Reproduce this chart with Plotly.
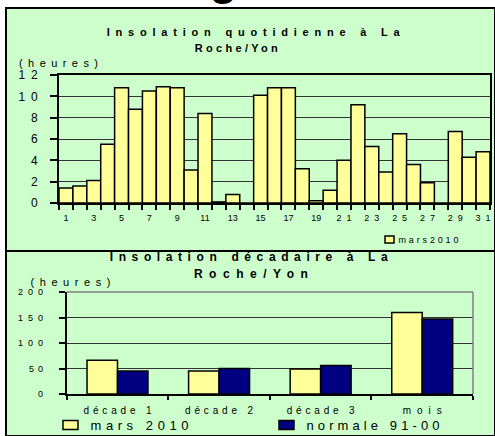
import json
import plotly.graph_objects as go

# ---------------- data ----------------
days = list(range(1, 32))
insolation_mars2010 = [1.4, 1.6, 2.1, 5.5, 10.8, 8.8, 10.5, 10.9, 10.8, 3.1,
                       8.4, 0.1, 0.8, 0.0, 10.1, 10.8, 10.8, 3.2, 0.2, 1.2,
                       4.0, 9.2, 5.3, 2.9, 6.5, 3.6, 1.9, 0.0, 6.7, 4.3, 4.8]
day_ticks = list(range(1, 32, 2))

decades = ["décade 1", "décade 2", "décade 3", "mois"]
decade_mars2010 = [66, 45, 49, 160]
decade_normale = [45, 50, 56, 147]

W, H = 495, 436
GREEN = "#CCFFCC"
YELLOW = "#FFFF99"
NAVY = "#000080"
FONT = "Liberation Sans, Arial, sans-serif"


def px(x):
    return x / W


def py(y):
    return 1 - y / H


fig = go.Figure()

fig.add_trace(go.Bar(
    x=days, y=insolation_mars2010, name="mars2010", width=1, showlegend=True,
    marker=dict(color=YELLOW, line=dict(color="black", width=1.5)),
    xaxis="x", yaxis="y", legend="legend",
))
fig.add_trace(go.Bar(
    x=decades, y=decade_mars2010, name="mars 2010", showlegend=True,
    marker=dict(color=YELLOW, line=dict(color="black", width=1.5)),
    xaxis="x2", yaxis="y2", legend="legend2",
))
fig.add_trace(go.Bar(
    x=decades, y=decade_normale, name="normale 91-00", showlegend=True,
    marker=dict(color=NAVY, line=dict(color="black", width=1.5)),
    xaxis="x2", yaxis="y2", legend="legend2",
))

shapes = [
    dict(type="rect", xref="paper", yref="paper", x0=px(6), x1=1,
         y0=py(251), y1=py(8), fillcolor=GREEN, line=dict(color="black", width=2),
         layer="below"),
    dict(type="rect", xref="paper", yref="paper", x0=px(6), x1=1,
         y0=0, y1=py(251), fillcolor=GREEN, line=dict(color="black", width=2),
         layer="below"),
    # grey frame (top / right) of the lower plot
    dict(type="line", xref="x2 domain", yref="y2 domain", x0=0, x1=1, y0=1, y1=1,
         line=dict(color="#808080", width=1.5)),
    dict(type="line", xref="x2 domain", yref="y2 domain", x0=1, x1=1, y0=0, y1=1,
         line=dict(color="#808080", width=1.5)),
]

annotations = [
    dict(text="irrégulière", x=px(247), y=py(6.5), xanchor="center", yanchor="bottom",
         font=dict(size=46, family=FONT, color="black", weight="bold")),
    dict(text="Insolation quotidienne à La", x=px(253.5), y=py(31.5), xanchor="center",
         yanchor="middle", font=dict(size=11, family=FONT, color="black", weight="bold")),
    dict(text="Roche/Yon", x=px(236.5), y=py(48), xanchor="center",
         yanchor="middle", font=dict(size=11, family=FONT, color="black", weight="bold")),
    dict(text="(heures)", x=px(36), y=py(63), xanchor="left", yanchor="middle",
         font=dict(size=11, family=FONT, color="black")),
    dict(text="Insolation décadaire à La", x=px(249), y=py(257), xanchor="center",
         yanchor="middle", font=dict(size=12, family=FONT, color="black", weight="bold")),
    dict(text="Roche/Yon", x=px(250.5), y=py(273.5), xanchor="center",
         yanchor="middle", font=dict(size=12, family=FONT, color="black", weight="bold")),
    dict(text="(heures)", x=px(48), y=py(282), xanchor="left", yanchor="middle",
         font=dict(size=11, family=FONT, color="black")),
]
for a in annotations:
    a.update(xref="paper", yref="paper", showarrow=False)

fig.update_layout(
    width=W, height=H, margin=dict(l=0, r=0, t=0, b=0, autoexpand=False),
    paper_bgcolor="white", plot_bgcolor="rgba(0,0,0,0)",
    font=dict(family=FONT, color="black"),
    showlegend=True,
    barmode="group", bargap=0.4, bargroupgap=0,
    shapes=shapes, annotations=annotations,
    xaxis=dict(domain=[px(59), px(490)], anchor="y", range=[0.5, 31.5],
               tickmode="array", tickvals=day_ticks, ticks="",
               tickfont=dict(size=9), ticklabelstandoff=5, automargin=False,
               showgrid=False, zeroline=False,
               showline=True, linecolor="black", linewidth=2, mirror=True,
               minor=dict(tick0=0.5, dtick=1, ticks="outside", ticklen=5,
                          tickwidth=1.5, tickcolor="black", showgrid=False)),
    yaxis=dict(domain=[py(203), py(75)], anchor="x", range=[0, 12], dtick=2,
               ticks="outside", ticklen=7, tickwidth=1.5, tickcolor="black",
               tickfont=dict(size=12), ticklabelstandoff=10, automargin=False,
               showgrid=True, gridcolor="#333333", gridwidth=1, zeroline=False,
               showline=True, linecolor="black", linewidth=2, mirror=True),
    xaxis2=dict(domain=[px(66.7), px(473)], anchor="y2", type="category",
                ticks="outside", tickson="boundaries", ticklen=4, tickwidth=1.5,
                tickcolor="black", tickfont=dict(size=10), ticklabelstandoff=6,
                automargin=False, showgrid=False, zeroline=False,
                showline=True, linecolor="black", linewidth=2),
    yaxis2=dict(domain=[py(394), py(292)], anchor="x2", range=[0, 200], dtick=50,
                ticks="outside", ticklen=6, tickwidth=1.5, tickcolor="black",
                tickfont=dict(size=9), ticklabelstandoff=14, automargin=False,
                showgrid=True, gridcolor="#333333", gridwidth=1, zeroline=False,
                showline=True, linecolor="black", linewidth=2),
    legend=dict(x=px(369.5), y=py(239.5), xanchor="left", yanchor="middle",
                orientation="h", bgcolor="rgba(0,0,0,0)", borderwidth=0,
                font=dict(size=9), entrywidth=60, entrywidthmode="pixels",
                itemclick=False, itemdoubleclick=False, visible=True),
    legend2=dict(x=px(50.5), y=py(425), xanchor="left", yanchor="middle",
                 orientation="h", bgcolor="rgba(0,0,0,0)", borderwidth=0,
                 font=dict(size=13), entrywidth=171, entrywidthmode="pixels",
                 itemclick=False, itemdoubleclick=False, visible=True),
)

# Excel-like stretched text: target widths (px) of the texts, in document order
text_widths = {
    "Insolation quotidienne à La": [293],
    "Roche/Yon": [83, 114],
    "Insolation décadaire à La": [278],
    "(heures)": [79, 80],
    "12": [19], "10": [19],
    "21": [15], "23": [15], "25": [15], "27": [15], "29": [15], "31": [15],
    "200": [25], "150": [25], "100": [25], "50": [14],
    "décade 1": [68], "décade 2": [68], "décade 3": [68], "mois": [39],
    "mars2010": [60], "mars 2010": [98], "normale 91-00": [133],
}
# legend swatch half-size and text offset per legend
legend_style = {"legend": [4.5, 3.5, 29], "legend2": [7.5, 4.5, 25]}

post = """
var st = document.createElement('style');
st.textContent = 'html,body{margin:0;padding:0;overflow:hidden;height:436px;width:495px;}';
document.head.appendChild(st);
var gd = document.getElementById('{plot_id}');
var widths = %s;
var lstyle = %s;
gd.querySelectorAll('text').forEach(function(t){
  var c = t.textContent;
  if (widths[c] && widths[c].length) {
    var w = widths[c].shift();
    t.setAttribute('textLength', w);
    t.setAttribute('lengthAdjust', 'spacing');
  }
});
Object.keys(lstyle).forEach(function(cls){
  var s = lstyle[cls];
  gd.querySelectorAll('g.' + cls + ' .traces').forEach(function(g){
    var p = g.querySelector('.legendpoints path');
    if (p) {
      p.setAttribute('d', 'M' + s[0] + ',' + s[1] + 'H-' + s[0] + 'V-' + s[1] + 'H' + s[0] + 'Z');
      p.style.strokeWidth = '1.5px';
    }
    var t = g.querySelector('text.legendtext');
    if (t) t.setAttribute('x', s[2]);
  });
});
""" % (json.dumps(text_widths, ensure_ascii=False), json.dumps(legend_style))

fig.write_html("out.html", post_script=post, config={"displayModeBar": False})
